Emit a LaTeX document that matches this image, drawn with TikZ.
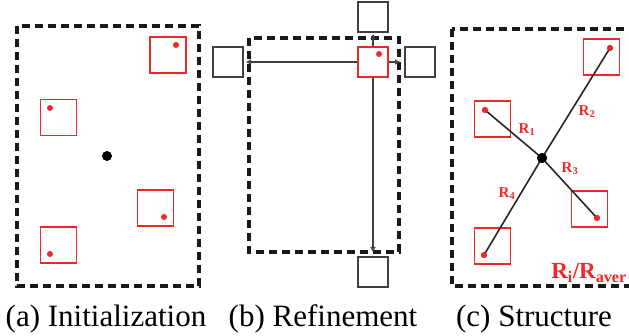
\documentclass[tikz,border=0pt]{standalone}
\usepackage{fontspec}
\setmainfont{Liberation Serif}
\usetikzlibrary{arrows.meta}
\definecolor{rd}{RGB}{240,40,40}
\tikzset{
  frame/.style={draw=black!90, line width=3.3pt, dash pattern=on 8pt off 5pt},
  redsq/.style={draw=rd, line width=1.5pt, minimum size=36pt, inner sep=0pt},
  redsqb/.style={draw=rd, line width=1.5pt, minimum size=30pt, inner sep=0pt},
  blksq/.style={draw=black!75, line width=1.4pt, minimum size=30pt, inner sep=0pt},
  rdot/.style={circle, fill=rd, minimum size=6pt, inner sep=0pt},
  bdot/.style={circle, fill=black, minimum size=10pt, inner sep=0pt},
  arr/.style={draw=black!75, line width=1.2pt, -{Triangle[open,length=5pt,width=5pt]}},
  spoke/.style={draw=black!85, line width=1.6pt},
  rlab/.style={text=rd, font=\fontsize{15}{17}\selectfont\bfseries, inner sep=0pt},
  captext/.style={font=\fontsize{31}{36}\selectfont, anchor=base, inner sep=0pt}
}
\begin{document}
\begin{tikzpicture}[x=1pt,y=-1pt]
\useasboundingbox (0,0) rectangle (629,336);
\clip (0,0) rectangle (629,336);
% ---------- (a) ----------
\draw[frame] (17,26) rectangle (199,286);
\node[redsq] (a1) at (168,55) {};
\node[redsq] (a2) at (58.5,117.5) {};
\node[redsq] (a3) at (155.5,208) {};
\node[redsq] (a4) at (58.5,245) {};
\node[rdot] (ad1) at (176,45) {};
\node[rdot] (ad2) at (50,108) {};
\node[rdot] (ad3) at (164,217) {};
\node[rdot] (ad4) at (50,254) {};
\node[bdot] (ac) at (107,156) {};
% ---------- (b) ----------
\draw[frame] (249,38) rectangle (399,252);
\node[blksq] (bt) at (373,17) {};
\node[blksq] (bl) at (228,62) {};
\node[blksq] (br) at (420,62) {};
\node[blksq] (bb) at (373,272) {};
\node[redsqb] (bc) at (373,62) {};
\node[rdot] (bd) at (379,54) {};
\coordinate (eT) at (373,34);
\coordinate (eL) at (246,62);
\coordinate (eR) at (400,62);
\coordinate (eB) at (373,252);
\draw[arr] (bc.north) -- (eT);
\draw[arr] (bc.west) -- (eL);
\draw[arr] (bc.east) -- (eR);
\draw[arr] (bc.south) -- (eB);
% ---------- (c) ----------
\draw[frame] (452,29) rectangle (645,286);
\node[redsq] (c1) at (601.5,57) {};
\node[redsq] (c2) at (492.5,119) {};
\node[redsq] (c3) at (589.5,209) {};
\node[redsq] (c4) at (492.5,246) {};
\node[rdot] (cd1) at (610,48) {};
\node[rdot] (cd2) at (485,110) {};
\node[rdot] (cd3) at (597,218) {};
\node[rdot] (cd4) at (484,255) {};
\node[bdot] (cc) at (542,158) {};
\draw[spoke] (cc.center) -- (cd1.center);
\draw[spoke] (cc.center) -- (cd2.center);
\draw[spoke] (cc.center) -- (cd3.center);
\draw[spoke] (cc.center) -- (cd4.center);
\node[rdot] at (610,48) {};
\node[rdot] at (485,110) {};
\node[rdot] at (597,218) {};
\node[rdot] at (484,255) {};
\node[bdot] at (542,158) {};
\node[rlab] (l1) at (527,130) {R\textsubscript{1}};
\node[rlab] (l2) at (587,112) {R\textsubscript{2}};
\node[rlab] (l3) at (570,169) {R\textsubscript{3}};
\node[rlab] (l4) at (507,194) {R\textsubscript{4}};
\node[text=rd, font=\fontsize{23}{26}\selectfont\bfseries, inner sep=0pt] (ratio) at (589,273) {R\textsubscript{i}/R\textsubscript{aver}};
% ---------- captions ----------
\node[captext] (ca) at (106,327) {(a) Initialization};
\node[captext] (cb) at (323,327) {(b) Refinement};
\node[captext] (cc2) at (534,327) {(c) Structure};
\end{tikzpicture}
\end{document}
